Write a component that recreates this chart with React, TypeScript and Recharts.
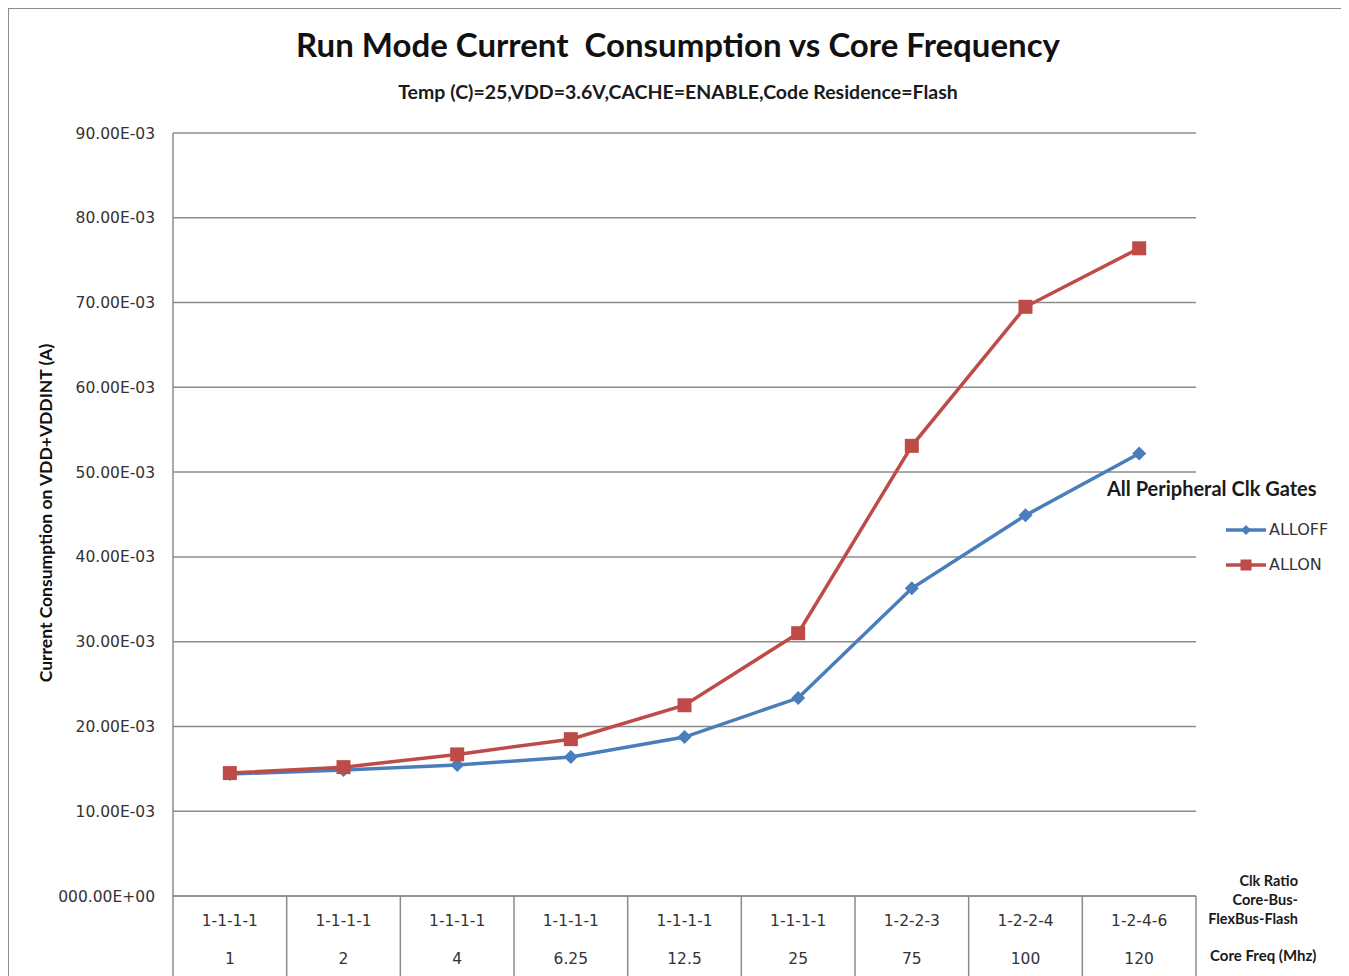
import { LineChart, Line, XAxis, YAxis, CartesianGrid } from "recharts";

const clkRatios = ["1-1-1-1", "1-1-1-1", "1-1-1-1", "1-1-1-1", "1-1-1-1", "1-1-1-1", "1-2-2-3", "1-2-2-4", "1-2-4-6"];
const coreFreqs = ["1", "2", "4", "6.25", "12.5", "25", "75", "100", "120"];
const allOff = [0.01439, 0.01486, 0.01545, 0.0164, 0.01875, 0.02335, 0.0363, 0.0449, 0.0522];
const allOn = [0.0145, 0.0152, 0.0167, 0.0185, 0.0225, 0.031, 0.0531, 0.0695, 0.0764];
const yTicks = [0, 0.01, 0.02, 0.03, 0.04, 0.05, 0.06, 0.07, 0.08, 0.09];
const seriesNames = ["ALLOFF", "ALLON"];

const data = coreFreqs.map((f, i) => ({
  freq: f,
  ratio: clkRatios[i],
  ALLOFF: allOff[i],
  ALLON: allOn[i],
}));

const BLUE = "#4a7ebb";
const RED = "#be4b48";
const GRID = "#8c8c8c";
const TICK_FONT = "'DejaVu Sans', Verdana, sans-serif";
const LABEL_FONT = "Lato, 'Open Sans', sans-serif";

const PLOT_W = 1023;
const BAND = PLOT_W / coreFreqs.length;

function fmtY(v: number) {
  if (v === 0) return "000.00E+00";
  return `${(v * 1000).toFixed(2)}E-03`;
}

function Diamond({ cx, cy, fill, r = 7 }: { cx: number; cy: number; fill: string; r?: number }) {
  return <polygon points={`${cx},${cy - r} ${cx + r},${cy} ${cx},${cy + r} ${cx - r},${cy}`} fill={fill} />;
}

function Square({ cx, cy, fill, s = 14 }: { cx: number; cy: number; fill: string; s?: number }) {
  return <rect x={cx - s / 2} y={cy - s / 2} width={s} height={s} fill={fill} />;
}

function XTick(props: any) {
  const { x, y, index } = props;
  const last = index === coreFreqs.length - 1;
  return (
    <g>
      <line x1={x - BAND / 2} x2={x - BAND / 2} y1={y} y2={y + 95} stroke={GRID} strokeWidth={1.5} />
      {last && <line x1={x + BAND / 2} x2={x + BAND / 2} y1={y} y2={y + 95} stroke={GRID} strokeWidth={1.5} />}
      <text x={x} y={y + 25} textAnchor="middle" dominantBaseline="central" fontFamily={TICK_FONT} fontSize={15.5} fill="#333">
        {clkRatios[index]}
      </text>
      <text x={x} y={y + 63} textAnchor="middle" dominantBaseline="central" fontFamily={TICK_FONT} fontSize={15.5} fill="#333">
        {coreFreqs[index]}
      </text>
    </g>
  );
}

function LegendBox() {
  const colors = [BLUE, RED];
  return (
    <div style={{ position: "absolute", left: 1098, top: 467, fontFamily: LABEL_FONT }}>
      <div style={{ fontWeight: 700, fontSize: 20, color: "#1a1a1a", whiteSpace: "nowrap" }}>All Peripheral Clk Gates</div>
      <div style={{ marginLeft: 118, marginTop: 12 }}>
        {seriesNames.map((name, i) => (
          <div key={name} style={{ display: "flex", alignItems: "center", height: 35 }}>
            <svg width={42} height={16}>
              <line x1={1} x2={41} y1={8} y2={8} stroke={colors[i]} strokeWidth={3.5} />
              {i === 0 ? <Diamond cx={21} cy={8} fill={colors[i]} r={5} /> : <Square cx={21} cy={8} fill={colors[i]} s={11} />}
            </svg>
            <span style={{ fontFamily: TICK_FONT, fontSize: 16, color: "#333", marginLeft: 2 }}>{name}</span>
          </div>
        ))}
      </div>
    </div>
  );
}

export default function App() {
  return (
    <div
      style={{
        position: "relative",
        width: 1340,
        height: 968,
        border: `1px solid ${GRID}`,
        borderBottom: "none",
        boxSizing: "border-box",
        background: "#fff",
        overflow: "hidden",
      }}
    >
      <div
        style={{
          position: "absolute",
          top: 15,
          left: 0,
          width: "100%",
          textAlign: "center",
          fontFamily: LABEL_FONT,
          fontWeight: 700,
          fontSize: 33,
          color: "#111",
          whiteSpace: "pre",
        }}
      >
        {"Run Mode Current  Consumption vs Core Frequency"}
      </div>
      <div
        style={{
          position: "absolute",
          top: 71,
          left: 0,
          width: "100%",
          textAlign: "center",
          fontFamily: LABEL_FONT,
          fontWeight: 700,
          fontSize: 19.5,
          color: "#1a1a1a",
        }}
      >
        Temp (C)=25,VDD=3.6V,CACHE=ENABLE,Code Residence=Flash
      </div>
      <div
        style={{
          position: "absolute",
          left: 36,
          top: 504,
          transform: "translate(-50%, -50%) rotate(-90deg)",
          whiteSpace: "nowrap",
          fontFamily: LABEL_FONT,
          fontWeight: 700,
          fontSize: 17.5,
          color: "#111",
        }}
      >
        Current Consumption on VDD+VDDINT (A)
      </div>
      <div
        style={{
          position: "absolute",
          left: 1150,
          top: 862,
          width: 139,
          textAlign: "right",
          fontFamily: LABEL_FONT,
          fontWeight: 700,
          fontSize: 14.5,
          lineHeight: "19px",
          color: "#1a1a1a",
        }}
      >
        <div>Clk Ratio</div>
        <div>Core-Bus-</div>
        <div>FlexBus-Flash</div>
      </div>
      <div
        style={{
          position: "absolute",
          left: 1201,
          top: 937,
          fontFamily: LABEL_FONT,
          fontWeight: 700,
          fontSize: 15,
          color: "#1a1a1a",
          whiteSpace: "nowrap",
        }}
      >
        Core Freq (Mhz)
      </div>
      <LineChart width={1338} height={967} data={data} margin={{ top: 124, right: 151, bottom: 0, left: 0 }}>
        <CartesianGrid vertical={false} stroke={GRID} strokeWidth={1.5} />
        <XAxis
          dataKey="freq"
          scale="band"
          height={80}
          interval={0}
          tickLine={false}
          tickSize={0}
          tickMargin={0}
          axisLine={{ stroke: GRID, strokeWidth: 1.5 }}
          tick={<XTick />}
        />
        <YAxis
          width={164}
          domain={[0, 0.09]}
          ticks={yTicks}
          tickFormatter={fmtY}
          tickLine={false}
          tickSize={0}
          tickMargin={18}
          axisLine={{ stroke: GRID, strokeWidth: 1.5 }}
          tick={{ fontFamily: TICK_FONT, fontSize: 15.5, fill: "#333" }}
        />
        <Line
          dataKey="ALLOFF"
          stroke={BLUE}
          strokeWidth={3.5}
          isAnimationActive={false}
          dot={(p: any) => <Diamond key={`d${p.index}`} cx={p.cx} cy={p.cy} fill={BLUE} />}
          activeDot={false}
        />
        <Line
          dataKey="ALLON"
          stroke={RED}
          strokeWidth={3.5}
          isAnimationActive={false}
          dot={(p: any) => <Square key={`s${p.index}`} cx={p.cx} cy={p.cy} fill={RED} />}
          activeDot={false}
        />
      </LineChart>
      <LegendBox />
    </div>
  );
}
